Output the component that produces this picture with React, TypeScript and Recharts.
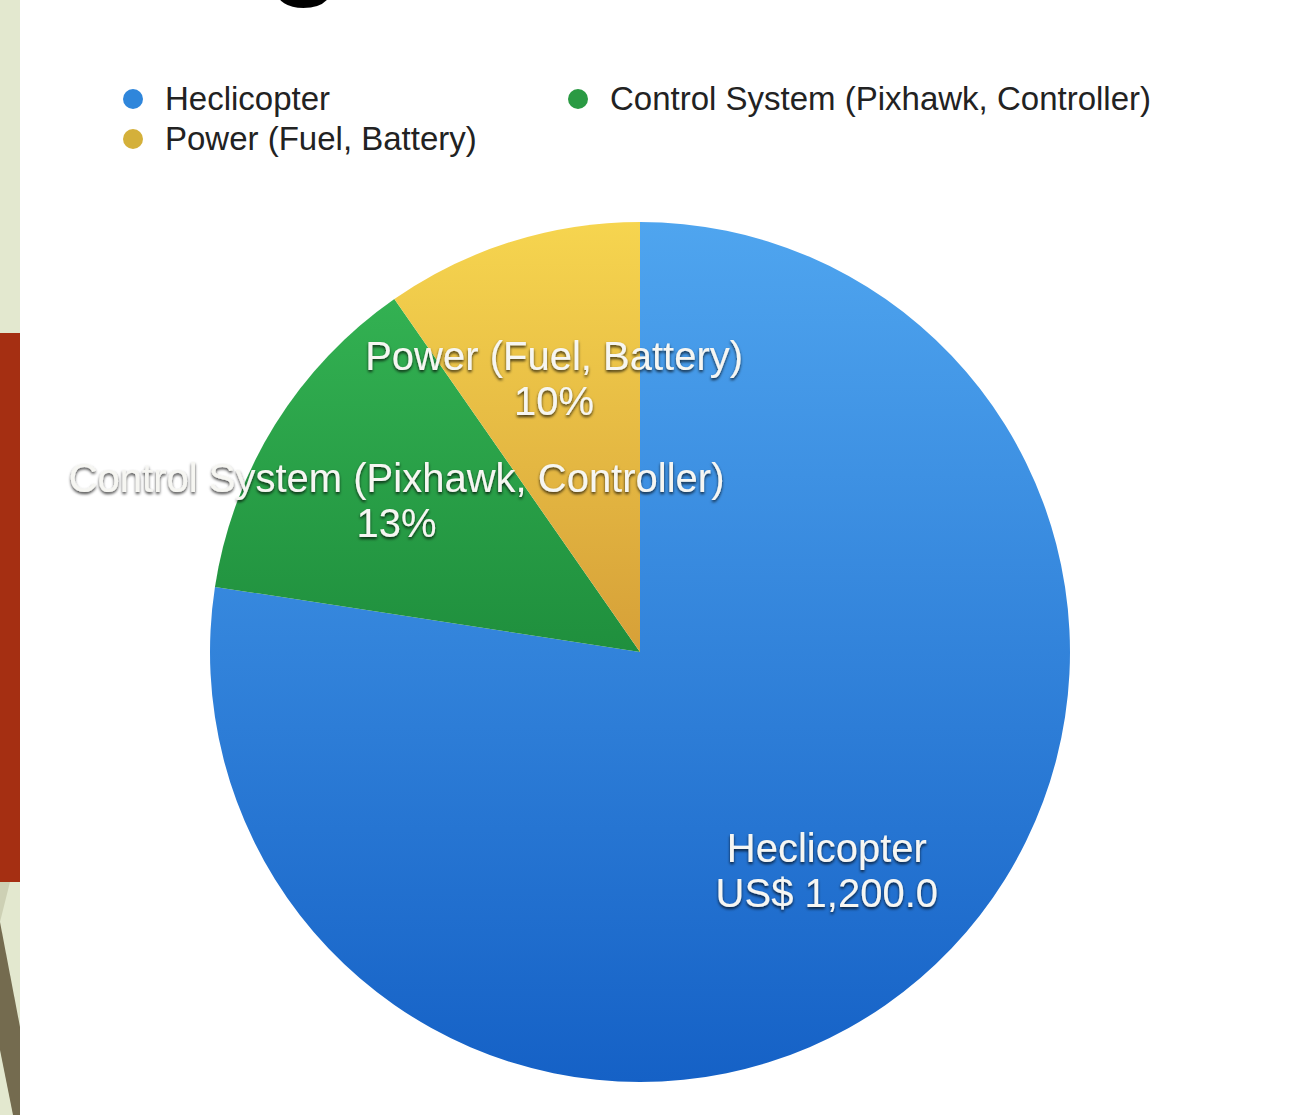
import { Cell, Legend, Pie, PieChart } from "recharts"

// cost breakdown
const categories = ["Heclicopter", "Control System (Pixhawk, Controller)", "Power (Fuel, Battery)"]
const costs = [1200, 200, 150]
const sliceFills = ["url(#gBlue)", "url(#gGreen)", "url(#gYellow)"]
const dotColors = ["#2f86db", "#2a9a43", "#d4b03a"]

const data = categories.map((name, i) => ({ name, value: costs[i] }))

const FONT = '"Liberation Sans", Arial, sans-serif'
const RADIAN = Math.PI / 180

function renderLabel(props: any) {
  const { cx, cy, midAngle, outerRadius, percent, name, value } = props
  const r = outerRadius * 0.667
  const x = cx + r * Math.cos(-midAngle * RADIAN)
  const y = cy + r * Math.sin(-midAngle * RADIAN)
  const second =
    name === "Heclicopter"
      ? `US$ ${value.toLocaleString("en-US", { minimumFractionDigits: 1 })}`
      : `${Math.round(percent * 100)}%`
  return (
    <text
      x={x}
      y={y}
      textAnchor="middle"
      fill="#f6f6f2"
      fontSize={40}
      fontFamily={FONT}
      filter="url(#labelShadow)"
    >
      <tspan x={x} dy={-8}>
        {name}
      </tspan>
      <tspan x={x} dy={45}>
        {second}
      </tspan>
    </text>
  )
}

function renderLegend(props: any) {
  const items = [...(props.payload || [])].sort(
    (a: any, b: any) => categories.indexOf(a.value) - categories.indexOf(b.value)
  )
  return (
    <div style={{ display: "grid", gridTemplateColumns: "445px auto", fontFamily: FONT }}>
      {items.map((entry: any) => {
        const idx = categories.indexOf(entry.value)
        return (
          <div key={entry.value} style={{ display: "flex", alignItems: "center", height: 40 }}>
            <span
              style={{
                width: 20,
                height: 20,
                borderRadius: 10,
                background: dotColors[idx],
                marginRight: 22,
                flex: "none",
              }}
            />
            <span style={{ fontSize: 33, color: "#222", whiteSpace: "nowrap" }}>{entry.value}</span>
          </div>
        )
      })}
    </div>
  )
}

export default function App() {
  return (
    <div
      style={{
        position: "absolute",
        left: 0,
        top: 0,
        width: 1307,
        height: 1115,
        overflow: "hidden",
        background: "#fff",
      }}
    >
      {/* slide decoration on the left */}
      <div style={{ position: "absolute", left: 0, top: 0, width: 20, height: 1115, background: "#e3e8cf" }} />
      <div style={{ position: "absolute", left: 0, top: 333, width: 20, height: 549, background: "#a52f12" }} />
      <svg style={{ position: "absolute", left: 0, top: 882 }} width={20} height={233}>
        <polygon points="0,0 10,0 0,40" fill="#cdd0b4" />
        <polygon points="0,40 20,145 20,233 13,233 0,168" fill="#746b4f" />
      </svg>
      {/* cropped slide title */}
      <div
        style={{
          position: "absolute",
          left: 266,
          top: -139,
          fontSize: 140,
          lineHeight: 1,
          fontFamily: FONT,
          color: "#000",
        }}
      >
        g
      </div>

      <svg width={0} height={0} style={{ position: "absolute" }}>
        <defs>
          <linearGradient id="gBlue" x1="0" y1="0" x2="0" y2="1">
            <stop offset="0%" stopColor="#4fa5ef" />
            <stop offset="100%" stopColor="#1561c6" />
          </linearGradient>
          <linearGradient id="gGreen" x1="0" y1="0" x2="0" y2="1">
            <stop offset="0%" stopColor="#33b152" />
            <stop offset="100%" stopColor="#1f8f3d" />
          </linearGradient>
          <linearGradient id="gYellow" x1="0" y1="0" x2="0" y2="1">
            <stop offset="0%" stopColor="#f6d54f" />
            <stop offset="100%" stopColor="#d6a038" />
          </linearGradient>
          <filter id="labelShadow" x="-20%" y="-40%" width="140%" height="180%">
            <feDropShadow dx="0" dy="2" stdDeviation="1.6" floodColor="#000" floodOpacity="0.75" />
          </filter>
        </defs>
      </svg>

      <div style={{ position: "absolute", left: 0, top: 0 }}>
        <PieChart width={1307} height={1115} margin={{ top: 0, right: 0, bottom: 0, left: 0 }}>
          <Legend
            content={renderLegend}
            verticalAlign="bottom"
            wrapperStyle={{ top: 79, left: 123, bottom: "auto", width: 1100 }}
          />
          <Pie
            data={data}
            dataKey="value"
            nameKey="name"
            cx={640}
            cy={652}
            outerRadius={430}
            startAngle={90}
            endAngle={-270}
            stroke="none"
            label={renderLabel}
            labelLine={false}
            isAnimationActive={false}
          >
            {data.map((d, i) => (
              <Cell key={d.name} fill={sliceFills[i]} />
            ))}
          </Pie>
        </PieChart>
      </div>
    </div>
  )
}
